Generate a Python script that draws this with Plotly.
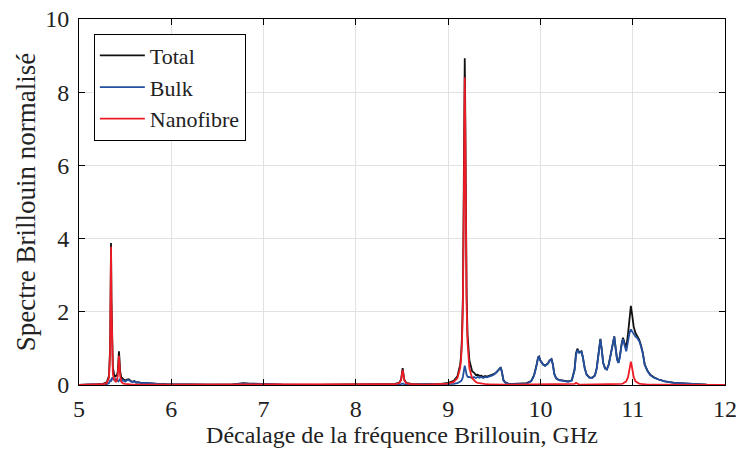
import numpy as np
import plotly.graph_objects as go

# Décalage Brillouin (GHz) et spectres normalisés
freq = [
    5.00, 5.10, 5.20, 5.26, 5.30, 5.325, 5.337, 5.342, 5.347, 5.352,
    5.357, 5.367, 5.38, 5.39, 5.40, 5.41, 5.42, 5.427, 5.433, 5.439,
    5.446, 5.46, 5.47, 5.48, 5.50, 5.52, 5.54, 5.56, 5.58, 5.60,
    5.62, 5.64, 5.68, 5.72, 5.78, 5.85, 5.95, 6.10, 6.40, 6.65,
    6.72, 6.78, 6.85, 6.95, 7.05, 7.20, 7.60, 8.00, 8.30, 8.42,
    8.47, 8.49, 8.50, 8.507, 8.514, 8.524, 8.545, 8.60, 8.75, 8.90,
    9.00, 9.06, 9.10, 9.13, 9.14, 9.15, 9.16, 9.17, 9.175, 9.18,
    9.185, 9.19, 9.20, 9.21, 9.22, 9.23, 9.26, 9.28, 9.30, 9.32,
    9.34, 9.36, 9.38, 9.40, 9.42, 9.44, 9.46, 9.48, 9.50, 9.52,
    9.54, 9.555, 9.57, 9.58, 9.59, 9.60, 9.62, 9.65, 9.70, 9.78,
    9.85, 9.90, 9.93, 9.955, 9.975, 9.985, 10.00, 10.03, 10.05, 10.08,
    10.10, 10.12, 10.135, 10.15, 10.17, 10.20, 10.25, 10.30, 10.34, 10.37,
    10.385, 10.40, 10.42, 10.445, 10.46, 10.48, 10.50, 10.53, 10.56, 10.59,
    10.61, 10.63, 10.65, 10.665, 10.68, 10.70, 10.72, 10.74, 10.77, 10.79,
    10.80, 10.815, 10.83, 10.845, 10.86, 10.88, 10.895, 10.91, 10.93, 10.95,
    10.965, 10.98, 10.995, 11.01, 11.03, 11.05, 11.07, 11.09, 11.11, 11.13,
    11.16, 11.19, 11.23, 11.28, 11.35, 11.45, 11.60, 11.80, 12.00,
]

bulk = [
    0.00, 0.00, 0.01, 0.01, 0.02, 0.05, 0.10, 0.15, 0.10, 0.12,
    0.20, 0.18, 0.15, 0.12, 0.16, 0.14, 0.12, 0.10, 0.12, 0.15,
    0.13, 0.10, 0.14, 0.12, 0.09, 0.13, 0.14, 0.10, 0.08, 0.10,
    0.06, 0.07, 0.05, 0.06, 0.04, 0.03, 0.02, 0.01, 0.01, 0.01,
    0.03, 0.04, 0.03, 0.02, 0.02, 0.01, 0.00, 0.00, 0.01, 0.01,
    0.01, 0.02, 0.04, 0.05, 0.04, 0.02, 0.01, 0.01, 0.01, 0.01,
    0.02, 0.03, 0.05, 0.09, 0.11, 0.15, 0.22, 0.38, 0.46, 0.53,
    0.47, 0.38, 0.28, 0.23, 0.21, 0.22, 0.19, 0.22, 0.19, 0.22,
    0.20, 0.22, 0.19, 0.22, 0.21, 0.23, 0.24, 0.26, 0.29, 0.33,
    0.39, 0.44, 0.47, 0.38, 0.22, 0.12, 0.06, 0.03, 0.02, 0.02,
    0.04, 0.10, 0.25, 0.50, 0.75, 0.77, 0.66, 0.55, 0.52, 0.58,
    0.66, 0.70, 0.55, 0.30, 0.18, 0.13, 0.10, 0.09, 0.12, 0.40,
    0.80, 0.96, 0.88, 0.91, 0.75, 0.45, 0.28, 0.20, 0.19, 0.25,
    0.45, 0.90, 1.25, 0.95, 0.60, 0.45, 0.42, 0.55, 0.95, 1.28,
    1.32, 1.00, 0.70, 0.60, 0.75, 1.10, 1.25, 1.10, 0.92, 1.20,
    1.42, 1.52, 1.45, 1.38, 1.32, 1.28, 1.20, 1.05, 0.85, 0.55,
    0.38, 0.27, 0.20, 0.15, 0.10, 0.06, 0.03, 0.01, 0.00,
]

nanofibre = [
    0.00, 0.00, 0.01, 0.02, 0.05, 0.20, 0.90, 2.20, 3.78, 2.20,
    0.90, 0.30, 0.15, 0.10, 0.09, 0.12, 0.25, 0.55, 0.80, 0.55,
    0.25, 0.08, 0.05, 0.04, 0.03, 0.02, 0.02, 0.01, 0.01, 0.01,
    0.01, 0.01, 0.00, 0.00, 0.00, 0.00, 0.00, 0.00, 0.00, 0.00,
    0.01, 0.01, 0.01, 0.01, 0.01, 0.00, 0.00, 0.00, 0.01, 0.02,
    0.05, 0.13, 0.30, 0.41, 0.30, 0.13, 0.05, 0.02, 0.01, 0.015,
    0.037, 0.083, 0.185, 0.46, 0.69, 1.16, 2.22, 4.96, 7.16, 8.40,
    7.16, 4.96, 2.22, 1.16, 0.69, 0.46, 0.185, 0.12, 0.083, 0.06,
    0.05, 0.037, 0.03, 0.025, 0.02, 0.018, 0.015, 0.013, 0.012, 0.011,
    0.01, 0.01, 0.01, 0.01, 0.01, 0.01, 0.01, 0.01, 0.01, 0.01,
    0.01, 0.01, 0.01, 0.01, 0.01, 0.01, 0.01, 0.01, 0.01, 0.01,
    0.01, 0.01, 0.01, 0.01, 0.01, 0.01, 0.01, 0.01, 0.01, 0.03,
    0.06, 0.03, 0.01, 0.01, 0.01, 0.01, 0.01, 0.01, 0.01, 0.01,
    0.01, 0.01, 0.01, 0.01, 0.01, 0.01, 0.01, 0.01, 0.01, 0.01,
    0.01, 0.01, 0.01, 0.01, 0.02, 0.03, 0.04, 0.06, 0.10, 0.22,
    0.45, 0.64, 0.45, 0.22, 0.10, 0.06, 0.04, 0.03, 0.02, 0.01,
    0.01, 0.01, 0.01, 0.00, 0.00, 0.00, 0.00, 0.00, 0.00,
]

# spectre total = somme des deux contributions
total = np.array(bulk) + np.array(nanofibre)

font = "Liberation Serif, Times New Roman, serif"

fig = go.Figure()
fig.add_trace(go.Scatter(x=freq, y=total, mode="lines", name="Total",
                         line=dict(color="#111111", width=1.8)))
fig.add_trace(go.Scatter(x=freq, y=bulk, mode="lines", name="Bulk",
                         line=dict(color="#2350a0", width=1.8)))
fig.add_trace(go.Scatter(x=freq, y=nanofibre, mode="lines", name="Nanofibre",
                         line=dict(color="#ee1c25", width=1.8)))

axis_style = dict(
    showline=True, linecolor="black", linewidth=1, mirror="ticks",
    ticks="inside", ticklen=6, tickcolor="black",
    showgrid=True, gridcolor="#e2e2e2", zeroline=False, automargin=False,
    tickfont=dict(family=font, size=24, color="#222"),
)

fig.update_xaxes(range=[5, 12], dtick=1, ticklabelstandoff=2, **axis_style,
                 title=dict(text="Décalage de la fréquence Brillouin, GHz",
                            font=dict(family=font, size=24, color="#222"),
                            standoff=0))
fig.update_yaxes(range=[0, 10], dtick=2, ticklabelstandoff=4, **axis_style,
                 title=dict(text="Spectre Brillouin normalisé",
                            font=dict(family=font, size=27, color="#222"),
                            standoff=1))

fig.update_layout(
    width=740, height=453,
    margin=dict(l=79, r=15, t=19, b=68),
    plot_bgcolor="white", paper_bgcolor="white",
    font=dict(family=font, color="#222"),
    legend=dict(x=0.023, y=0.96, xanchor="left", yanchor="top",
                bgcolor="white", bordercolor="black", borderwidth=1,
                itemwidth=45,
                font=dict(family=font, size=22, color="#222")),
)

# pas de marge autour du graphique dans la page, pas de barre d'outils
fig.write_html("out.html", config={"displayModeBar": False},
               post_script="document.body.style.margin='0';")
